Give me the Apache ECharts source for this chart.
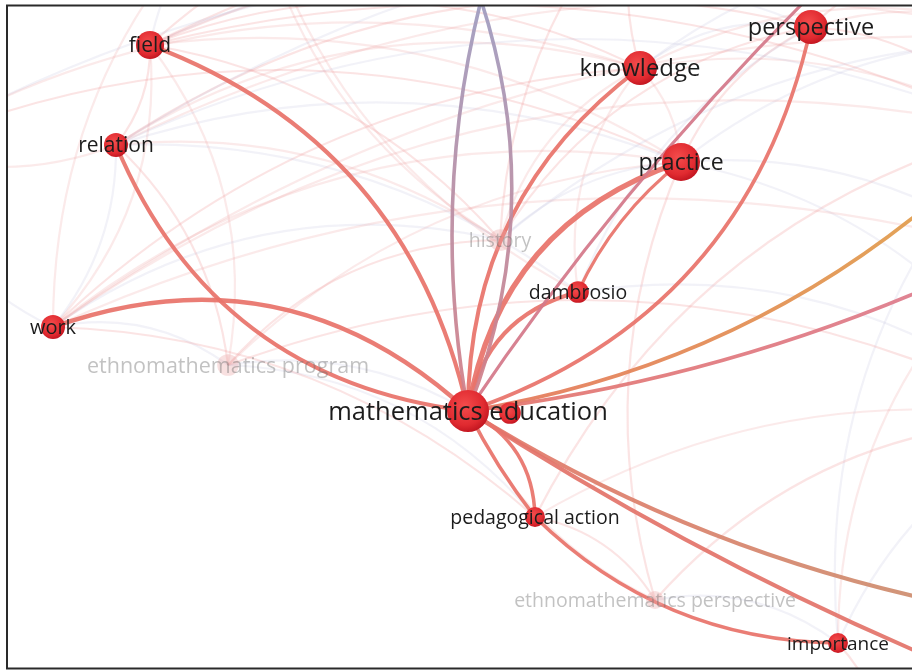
<!DOCTYPE html>
<html>
<head>
<meta charset="utf-8">
<script src="https://cdn.jsdelivr.net/npm/echarts@6/dist/echarts.min.js"></script>
<style>
html,body{margin:0;padding:0;background:#fff;}
#chart{width:912px;height:671px;}
</style>
</head>
<body>
<div id="chart"></div>
<script>
// ---- data: VOSviewer-like term map (map coordinates & occurrences) ----
const nodeNames = ['node_b','mathematics education','field','relation','work','ethnomathematics program',
  'history','dambrosio','knowledge','practice','perspective','pedagogical action',
  'ethnomathematics perspective','importance'];
const nodeX = [510, 468, 150, 116, 53, 228, 500, 578, 640, 681, 811, 535, 655, 838];
const nodeY = [413, 411, 45, 145, 327, 365, 240, 292, 68, 162, 27, 517, 600, 643];
const nodeWeight = [13, 49, 22, 16, 16, 13, 13, 13, 32, 40, 32, 11, 9, 11];
const nodeDim = [0, 0, 0, 0, 0, 1, 1, 0, 0, 0, 0, 0, 1, 0];
const nodeShowLabel = [0, 1, 1, 1, 1, 1, 1, 1, 1, 1, 1, 1, 1, 1];

// terms lying outside the visible window
const outNames = ['A','B','C','D','E','F','G','H','I','J','K','L','M','N','O'];
const outX = [481, 900, 1010, 1010, 1010, 1010, 250, 650, -100, 1050, 1050, 350, -80, 1050, 900];
const outY = [0, -90, 130, 250, 615, 690, -120, -120, 150, 40, 420, 800, 520, -60, 800];

// highlighted links [source, target, strength]
const strongLinks = [
  ['mathematics education','field',4.5],
  ['mathematics education','relation',4.5],
  ['mathematics education','work',5],
  ['mathematics education','knowledge',4.5],
  ['mathematics education','practice',6],
  ['mathematics education','perspective',4],
  ['mathematics education','dambrosio',4.5],
  ['dambrosio','practice',3.5],
  ['A','mathematics education',4],
  ['mathematics education','A',4],
  ['mathematics education','C',4],
  ['mathematics education','D',4],
  ['mathematics education','E',4.5],
  ['mathematics education','F',4.5],
  ['mathematics education','B',3.5],
  ['mathematics education','pedagogical action',4],
  ['pedagogical action','mathematics education',4],
  ['pedagogical action','importance',4],
  ['mathematics education','node_b',4]
];
const strongCurve = [-0.27, 0.29, -0.30, 0.25, 0.30, -0.28, 0.32, 0.12, -0.107, -0.18, -0.165, -0.085, -0.10, -0.05, 0.06, 0.30, 0.05, -0.2, 0.2];
const strongColor = ['#e8736a','#e8736a','#e8736a','#e8736a','#e8736a','#e8736a','#e8736a','#e8736a',
  'purpleA','purpleB','orange','pink','brown','#e3746a','#d4788a','#e8736a','#e8736a','#e8736a','#e8736a'];

// background (non-highlighted) links [source, target, strength]
const faintLinks = [
  ['field','relation',1],['field','work',1],['relation','work',1],['field','knowledge',1],
  ['field','practice',1],['field','perspective',1],['field','history',1],['relation','knowledge',1],
  ['relation','practice',1],['relation','perspective',1],['relation','history',1],['work','ethnomathematics program',1],
  ['relation','ethnomathematics program',1],['field','ethnomathematics program',1],['ethnomathematics program','mathematics education',1],
  ['ethnomathematics program','history',1],['ethnomathematics program','practice',1],['work','history',1],['work','knowledge',1],
  ['history','knowledge',1],['history','practice',1],['history','perspective',1],['knowledge','practice',1],
  ['knowledge','perspective',1],['practice','perspective',1],['dambrosio','knowledge',1],['dambrosio','perspective',1],
  ['pedagogical action','ethnomathematics perspective',1],['ethnomathematics perspective','mathematics education',1],
  ['ethnomathematics perspective','importance',1],['ethnomathematics perspective','practice',1],['importance','D',1],
  ['importance','K',1],['pedagogical action','C',1],['pedagogical action','K',1],['ethnomathematics program','pedagogical action',1],
  ['work','pedagogical action',1],['work','G',1],['field','G',1],['field','H',1],['relation','I',1],['work','I',1],
  ['knowledge','H',1],['knowledge','J',1],['practice','J',1],['perspective','N',1],['perspective','J',1],
  ['practice','K',1],['importance','O',1],['history','G',1],
  ['knowledge','N',1],['field','J',1],['relation','J',1],['dambrosio','K',1],['history','H',1],['dambrosio','G',1],
  ['practice','D',1],['perspective','C',1],['knowledge','C',1],['importance','C',1],['field','N',1],
  ['work','practice',1],['relation','dambrosio',1],['ethnomathematics perspective','K',1],
  ['work','J',1],['relation','C',1],['field','C',1],['work','C',1],['history','J',1],['ethnomathematics program','K',1],
  ['work','D',1],['I','J',1],['G','N',1],['I','knowledge',1],['relation','N',1],['I','practice',1]
];

// ---- build ----
const labelSize = {'mathematics education':25.5,'knowledge':24,'perspective':23.5,'practice':23,'field':21,'relation':21,
  'work':20,'dambrosio':19.5,'pedagogical action':19.5,'importance':19,'ethnomathematics program':21.5,'history':19.5,
  'ethnomathematics perspective':19.5};

function nodeColor(dim){
  if (dim) return 'rgba(236,165,165,0.35)';
  return new echarts.graphic.RadialGradient(0.42,0.38,0.65,[
    {offset:0,color:'#f44c4c'},{offset:0.7,color:'#e02a30'},{offset:1,color:'#c0141f'}]);
}
const nodes = nodeNames.map((n,i)=>({
  name:n, value:[nodeX[i],nodeY[i]],
  symbolSize: 6*Math.sqrt(nodeWeight[i]),
  itemStyle:{color:nodeColor(nodeDim[i])},
  label:{show:!!nodeShowLabel[i], fontSize:labelSize[n]||16, offset:[0,1.5],
    color: nodeDim[i] ? 'rgba(110,110,110,0.42)' : '#1c1c1c'}
}));
outNames.forEach((n,i)=>nodes.push({name:n,value:[outX[i],outY[i]],symbolSize:0,label:{show:false},itemStyle:{opacity:0}}));

function grad(a,b,horizontal){
  return new echarts.graphic.LinearGradient(0,0,horizontal?1:0,horizontal?0:1,[{offset:0,color:a},{offset:1,color:b}]);
}
function strongColorOf(key){
  if (key==='purpleA'||key==='purpleB') return grad('#9e9cc0','#d47e86',false);
  if (key==='orange') return grad('#e5765e','#e0a448',true);
  if (key==='pink') return grad('#e4766c','#dc7c92',true);
  if (key==='brown') return grad('#e4786a','#c99270',true);
  return key;
}
const faintPalette = ['rgba(238,150,150,0.26)','rgba(238,160,160,0.22)','rgba(190,190,220,0.2)'];
const links = [];
faintLinks.forEach((l,i)=>links.push({source:l[0],target:l[1],
  lineStyle:{width:2.2*l[2],color:faintPalette[i%3],curveness:(i%2?0.22:0.18),opacity:1}}));
strongLinks.forEach((l,i)=>links.push({source:l[0],target:l[1],
  lineStyle:{width:l[2]*0.9,color:strongColorOf(strongColor[i]),curveness:strongCurve[i],opacity:0.93}}));

const chart = echarts.init(document.getElementById('chart'));
chart.setOption({
  animation:false,
  backgroundColor:'#fff',
  grid:{left:0,right:0,top:0,bottom:0},
  xAxis:{type:'value',min:0,max:912,show:false},
  yAxis:{type:'value',min:0,max:671,inverse:true,show:false},
  series:[{
    type:'graph',
    coordinateSystem:'cartesian2d',
    layout:'none',
    data:nodes,
    links:links,
    edgeSymbol:['none','none'],
    label:{show:true,position:'inside',fontFamily:'Open Sans',color:'#1c1c1c'},
    emphasis:{disabled:true},
    z:2
  }],
  graphic:[
    {type:'rect',z:100,silent:true,shape:{x:0,y:0,width:6,height:671},style:{fill:'#fff'}},
    {type:'rect',z:100,silent:true,shape:{x:0,y:0,width:912,height:5},style:{fill:'#fff'}},
    {type:'rect',z:100,silent:true,shape:{x:0,y:669,width:912,height:2},style:{fill:'#fff'}},
    {type:'rect',z:101,silent:true,shape:{x:7,y:5.5,width:920,height:663},style:{fill:'none',stroke:'#2a2a2a',lineWidth:2}}
  ]
});
</script>
</body>
</html>
